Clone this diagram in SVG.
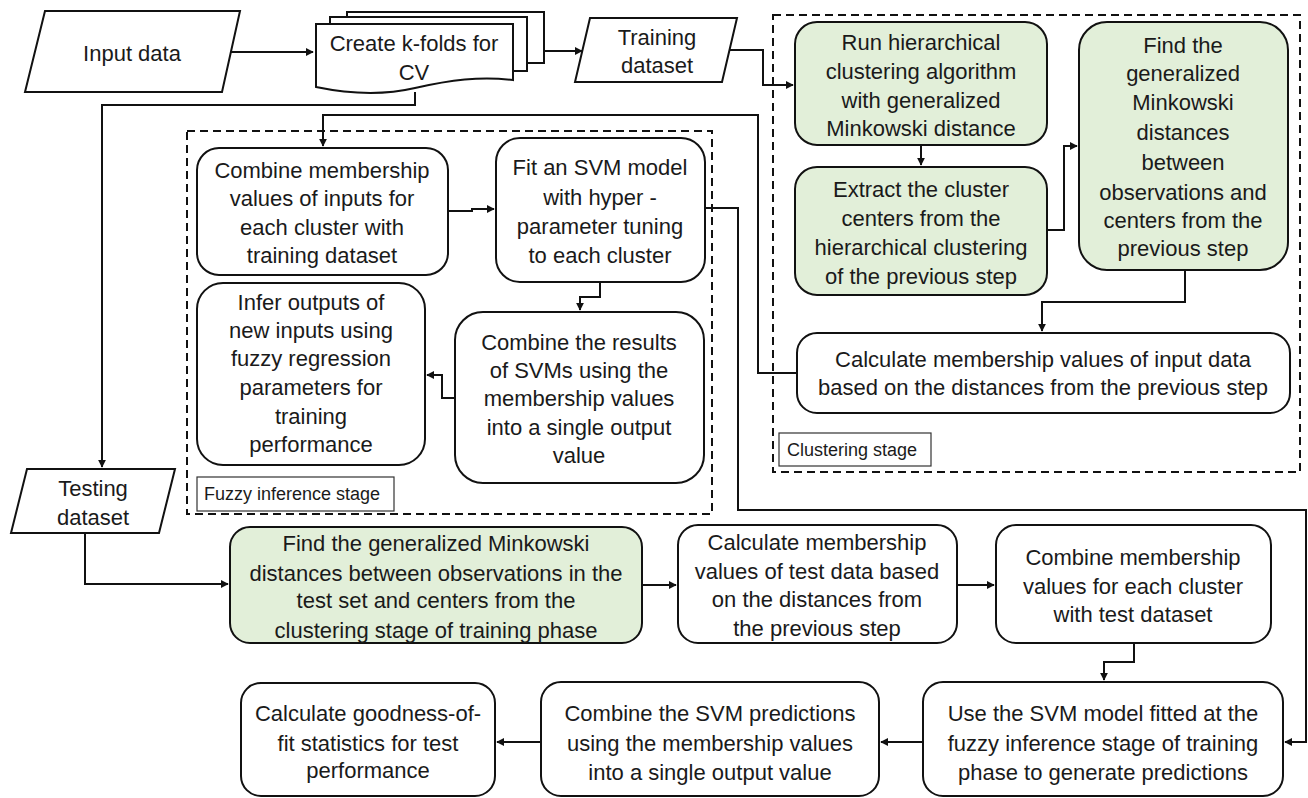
<svg xmlns="http://www.w3.org/2000/svg" width="1308" height="798" viewBox="0 0 1308 798">
<defs>
<style>
.b{fill:#fff;stroke:#111;stroke-width:2}
.g{fill:#e2efd9;stroke:#111;stroke-width:2}
.d{fill:none;stroke:#111;stroke-width:2;stroke-dasharray:8 5}
.l{fill:#fff;stroke:#333;stroke-width:1.2}
.c{fill:none;stroke:#111;stroke-width:2;marker-end:url(#ah)}
text{font-family:"Liberation Sans",Arial,sans-serif;font-size:22px;fill:#1a1a1a;text-anchor:middle}
.s{font-size:18px;text-anchor:start}
</style>
<marker id="ah" viewBox="0 0 10 10" refX="9" refY="5" markerWidth="4" markerHeight="4" orient="auto"><path d="M0,0L10,5L0,10Z" fill="#111"/></marker>
</defs>
<rect width="1308" height="798" fill="#fff"/>

<g id="clustering-stage">
<rect class="d" x="773" y="15" width="527" height="457"/>
<rect class="l" x="779" y="433" width="152" height="33"/>
<text class="s" x="787" y="456">Clustering stage</text>
</g>
<g id="fuzzy-stage">
<rect class="d" x="187" y="131" width="525" height="383"/>
<rect class="l" x="197" y="477" width="197" height="34"/>
<text class="s" x="204" y="500">Fuzzy inference stage</text>
</g>

<g id="connectors">
<path class="c" d="M230,52H313"/>
<path class="c" d="M544,51H582"/>
<path class="c" d="M730,50H763V85H793"/>
<path class="c" d="M921,145V165"/>
<path class="c" d="M1047,230H1064V146H1077"/>
<path class="c" d="M1185,270V302H1042V331"/>
<path class="c" d="M797,373H758V115H323V146"/>
<path class="c" d="M415,92V105H102V467"/>
<path class="c" d="M448,211H472V209H494"/>
<path class="c" d="M600,282V297H580V310"/>
<path class="c" d="M455,398H442V375H427"/>
<path class="c" d="M705,208H738V510H1306V742H1285"/>
<path class="c" d="M85,533V584H228"/>
<path class="c" d="M642,585H676"/>
<path class="c" d="M957,585H994"/>
<path class="c" d="M1134,643V662H1104V680"/>
<path class="c" d="M923,742H881"/>
<path class="c" d="M541,742H497"/>
</g>

<g id="input-data">
<polygon class="b" points="45,11 240,11 222,92 25,92"/>
<text x="132" y="61">Input data</text>
</g>

<g id="create-kfolds">
<rect class="b" x="347" y="12" width="197" height="51"/>
<rect class="b" x="330" y="17" width="197" height="54"/>
<path class="b" d="M316,24H513V80C480,76 450,80 415,88C385,95 350,94 316,87Z"/>
<text x="414" y="51">Create k-folds for</text>
<text x="414" y="80">CV</text>
</g>

<g id="training-dataset">
<polygon class="b" points="590,18 737,18 722,82 575,82"/>
<text x="657" y="45">Training</text>
<text x="657" y="73">dataset</text>
</g>

<g id="run-hierarchical">
<rect class="g" x="795" y="22" width="252" height="123" rx="22"/>
<text x="921" y="50">Run hierarchical</text>
<text x="921" y="79">clustering algorithm</text>
<text x="921" y="108">with generalized</text>
<text x="921" y="136">Minkowski distance</text>
</g>

<g id="extract-centers">
<rect class="g" x="795" y="167" width="252" height="128" rx="22"/>
<text x="921" y="197">Extract the cluster</text>
<text x="921" y="226">centers from the</text>
<text x="921" y="255">hierarchical clustering</text>
<text x="921" y="284">of the previous step</text>
</g>

<g id="find-distances">
<rect class="g" x="1079" y="22" width="209" height="248" rx="28"/>
<text x="1183" y="53">Find the</text>
<text x="1183" y="81">generalized</text>
<text x="1183" y="110">Minkowski</text>
<text x="1183" y="140">distances</text>
<text x="1183" y="170">between</text>
<text x="1183" y="200">observations and</text>
<text x="1183" y="228">centers from the</text>
<text x="1183" y="256">previous step</text>
</g>

<g id="calc-membership-input">
<rect class="b" x="797" y="333" width="493" height="80" rx="20"/>
<text x="1043" y="367">Calculate membership values of input data</text>
<text x="1043" y="395">based on the distances from the previous step</text>
</g>

<g id="combine-membership-train">
<rect class="b" x="197" y="148" width="251" height="127" rx="22"/>
<text x="322" y="178">Combine membership</text>
<text x="322" y="206">values of inputs for</text>
<text x="322" y="235">each cluster with</text>
<text x="322" y="263">training dataset</text>
</g>

<g id="fit-svm">
<rect class="b" x="496" y="138" width="209" height="144" rx="24"/>
<text x="600" y="175">Fit an SVM model</text>
<text x="600" y="205">with hyper -</text>
<text x="600" y="234">parameter tuning</text>
<text x="600" y="263">to each cluster</text>
</g>

<g id="infer-outputs">
<rect class="b" x="197" y="283" width="228" height="182" rx="26"/>
<text x="311" y="310">Infer outputs of</text>
<text x="311" y="338">new inputs using</text>
<text x="311" y="366">fuzzy regression</text>
<text x="311" y="395">parameters for</text>
<text x="311" y="424">training</text>
<text x="311" y="452">performance</text>
</g>

<g id="combine-results">
<rect class="b" x="455" y="312" width="249" height="171" rx="28"/>
<text x="579" y="350">Combine the results</text>
<text x="579" y="378">of SVMs using the</text>
<text x="579" y="406">membership values</text>
<text x="579" y="435">into a single output</text>
<text x="579" y="463">value</text>
</g>

<g id="testing-dataset">
<polygon class="b" points="27,469 175,469 159,533 11,533"/>
<text x="93" y="496">Testing</text>
<text x="93" y="525">dataset</text>
</g>

<g id="find-distances-test">
<rect class="g" x="230" y="527" width="412" height="116" rx="20"/>
<text x="436" y="551">Find the generalized Minkowski</text>
<text x="436" y="581">distances between observations in the</text>
<text x="436" y="608">test set and centers from the</text>
<text x="436" y="638">clustering stage of training phase</text>
</g>

<g id="calc-membership-test">
<rect class="b" x="678" y="525" width="279" height="118" rx="20"/>
<text x="817" y="550">Calculate membership</text>
<text x="817" y="579">values of test data based</text>
<text x="817" y="607">on the distances from</text>
<text x="817" y="636">the previous step</text>
</g>

<g id="combine-membership-test">
<rect class="b" x="996" y="525" width="275" height="118" rx="20"/>
<text x="1133" y="565">Combine membership</text>
<text x="1133" y="594">values for each cluster</text>
<text x="1133" y="622">with test dataset</text>
</g>

<g id="use-svm">
<rect class="b" x="923" y="682" width="360" height="114" rx="20"/>
<text x="1103" y="721">Use the SVM model fitted at the</text>
<text x="1103" y="751">fuzzy inference stage of training</text>
<text x="1103" y="780">phase to generate predictions</text>
</g>

<g id="combine-svm-predictions">
<rect class="b" x="541" y="682" width="338" height="114" rx="20"/>
<text x="710" y="721">Combine the SVM predictions</text>
<text x="710" y="751">using the membership values</text>
<text x="710" y="780">into a single output value</text>
</g>

<g id="goodness-of-fit">
<rect class="b" x="241" y="683" width="254" height="113" rx="20"/>
<text x="368" y="721">Calculate goodness-of-</text>
<text x="368" y="751">fit statistics for test</text>
<text x="368" y="778">performance</text>
</g>
</svg>
